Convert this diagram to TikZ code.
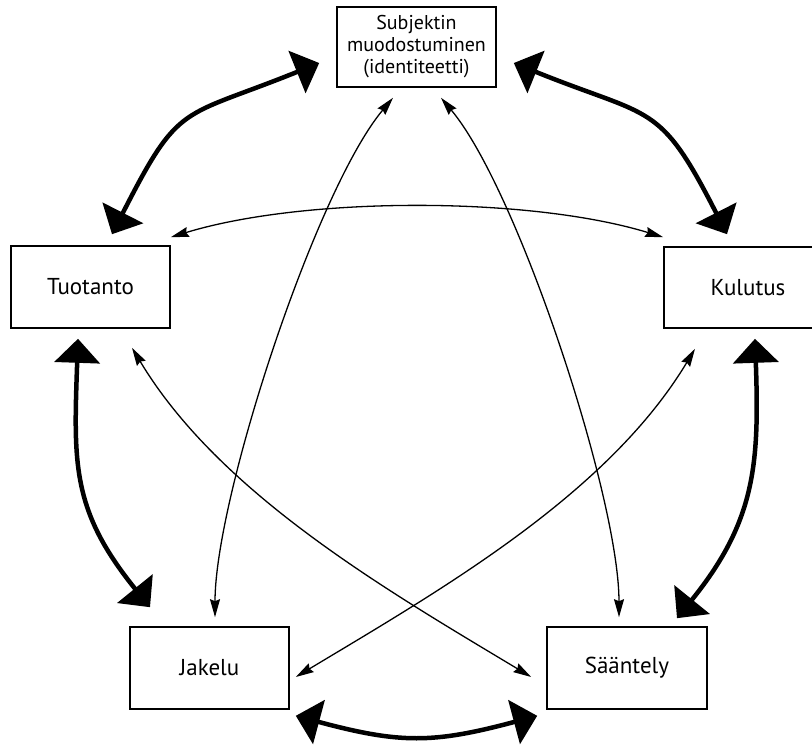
\documentclass[tikz,border=0pt]{standalone}
\usepackage{fontspec}
\setmainfont{PT Sans}
\usetikzlibrary{arrows.meta,calc}

\tikzset{
  box/.style={draw, line width=1.6pt, inner sep=0pt, align=center,
              font=\fontsize{23}{26}\selectfont},
  heavylink/.style={line width=4.5pt,
    {Triangle[length=24pt,width=45pt]}-{Triangle[length=24pt,width=45pt]}},
  lightlink/.style={line width=1.3pt,
    {Stealth[length=18pt,width=10pt,inset=2pt]}-{Stealth[length=18pt,width=10pt,inset=2pt]}}
}

\begin{document}
\begin{tikzpicture}[x=1pt,y=1pt]
\useasboundingbox (0,0) rectangle (812,-745);

% boxes
\node[box, minimum width=159pt, minimum height=80pt,
      font=\fontsize{20}{22}\selectfont] (subj) at (416.5,-47)
      {Subjektin\\muodostuminen\\(identiteetti)};
\node[box, minimum width=159pt, minimum height=82pt] (tuot) at (90.5,-287) {Tuotanto};
\node[box, minimum width=168pt, minimum height=81pt] (kul) at (748,-287.5) {Kulutus};
\node[box, minimum width=159pt, minimum height=82pt] (jak) at (209.5,-668) {Jakelu};
\node[box, minimum width=160pt, minimum height=82pt] (saan) at (627,-668) {Sääntely};

% arrow end points next to the boxes
\coordinate (s-t) at ($(subj.west)+(-17,-16)$);
\coordinate (t-s) at ($(tuot.north)+(21.5,11)$);
\coordinate (s-k) at ($(subj.east)+(17,-16)$);
\coordinate (k-s) at ($(kul.north)+(-21,12)$);
\coordinate (t-j) at ($(tuot.south)+(-12.5,-10)$);
\coordinate (j-t) at ($(jak.north)+(-59.5,19)$);
\coordinate (k-a) at ($(kul.south)+(7,-10)$);
\coordinate (a-k) at ($(saan.north)+(50,8)$);
\coordinate (j-a) at ($(jak.south east)+(6,-6)$);
\coordinate (a-j) at ($(saan.south west)+(-9,-6)$);

\coordinate (t-k) at ($(tuot.north east)+(0,8)$);
\coordinate (k-t) at ($(kul.north west)+(0,9)$);
\coordinate (s-j) at ($(subj.south)+(-23.5,-10)$);
\coordinate (j-s) at ($(jak.north)+(5.5,9)$);
\coordinate (s-a) at ($(subj.south)+(24.5,-10)$);
\coordinate (a-s) at ($(saan.north)+(-8,9)$);
\coordinate (t-a) at ($(tuot.south)+(41.5,-19)$);
\coordinate (a-t) at ($(saan.west)+(-15,-9)$);
\coordinate (k-j) at ($(kul.south)+(-53,-20)$);
\coordinate (j-k) at ($(jak.east)+(6,-9)$);

% outer cycle
\draw[heavylink] (t-s) to[out=63,in=202,distance=150pt] (s-t);
\draw[heavylink] (k-s) to[out=117,in=338,distance=150pt] (s-k);
\draw[heavylink] (t-j) to[out=268,in=129,distance=125pt] (j-t);
\draw[heavylink] (k-a) to[out=272,in=51,distance=125pt] (a-k);
\draw[heavylink] (j-a) to[out=345,in=195,distance=108pt] (a-j);

% inner star
\draw[lightlink] (t-k) to[out=17,in=163,distance=140pt] (k-t);
\draw[lightlink] (s-j) to[out=230,in=90,distance=120pt] (j-s);
\draw[lightlink] (s-a) to[out=310,in=90,distance=120pt] (a-s);
\draw[lightlink] (t-a) to[out=-59,in=149,distance=170pt] (a-t);
\draw[lightlink] (k-j) to[out=239,in=31,distance=170pt] (j-k);
\end{tikzpicture}
\end{document}
